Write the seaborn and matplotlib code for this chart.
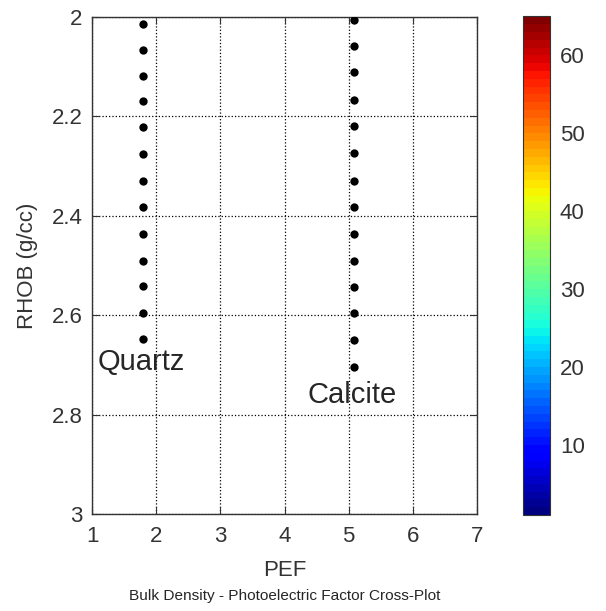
import numpy as np
import pandas as pd
import matplotlib
matplotlib.use("Agg")
import matplotlib.pyplot as plt
import matplotlib as mpl
import seaborn as sns

# --- data ---
quartz_pef = [1.8] * 13
quartz_rhob = [2.014, 2.067, 2.119, 2.168, 2.222, 2.276, 2.329,
               2.383, 2.437, 2.490, 2.541, 2.595, 2.648]
calcite_pef = [5.08] * 14
calcite_rhob = [2.006, 2.058, 2.110, 2.166, 2.219, 2.274, 2.329,
                2.383, 2.437, 2.490, 2.543, 2.596, 2.651, 2.705]
x_ticks = [1, 2, 3, 4, 5, 6, 7]
y_ticks = [2, 2.2, 2.4, 2.6, 2.8, 3]
y_ticklabels = ['2', '2.2', '2.4', '2.6', '2.8', '3']
cbar_ticks = [10, 20, 30, 40, 50, 60]
cbar_lim = (1, 65)

df = pd.DataFrame({
    'PEF': quartz_pef + calcite_pef,
    'RHOB': quartz_rhob + calcite_rhob,
    'mineral': ['Quartz'] * len(quartz_pef) + ['Calcite'] * len(calcite_pef),
})

sns.set_style("white")
plt.rcParams['font.family'] = ['Liberation Sans', 'DejaVu Sans']

fig = plt.figure(figsize=(6.06, 6.11), dpi=100)
ax = fig.add_axes([0.152, 0.159, 0.635, 0.813])
cax = fig.add_axes([0.863, 0.157, 0.045, 0.816])

sns.scatterplot(data=df, x='PEF', y='RHOB', color='black', s=36,
                edgecolor='black', linewidth=0, legend=False, ax=ax, zorder=3)

ax.set_xlim(1, 7)
ax.set_ylim(3, 2)
ax.set_xticks(x_ticks)
ax.set_yticks(y_ticks)
ax.set_yticklabels(y_ticklabels)
ax.grid(True, ls=':', color='black', lw=0.9)
ax.tick_params(direction='in', length=5, width=0.8, bottom=True, left=True,
               top=True, right=True, labelsize=16, labelcolor='#333333',
               color='#333333')
ax.tick_params(axis='x', pad=9)
ax.tick_params(axis='y', pad=7)
for sp in ax.spines.values():
    sp.set_color('#333333')
    sp.set_linewidth(1.0)
ax.set_xlabel('PEF', fontsize=16, color='#333333', labelpad=9)
ax.set_ylabel('RHOB (g/cc)', fontsize=16, color='#333333', labelpad=10)

ax.text(1.09, 2.694, 'Quartz', fontsize=21, va='center', ha='left')
ax.text(5.05, 2.761, 'Calcite', fontsize=21, va='center', ha='center')

ax.text(0.5, -0.165, 'Bulk Density - Photoelectric Factor Cross-Plot',
        transform=ax.transAxes, ha='center', va='center', fontsize=11.1)

cmap = plt.get_cmap('jet', 64)
norm = mpl.colors.Normalize(vmin=cbar_lim[0], vmax=cbar_lim[1])
cb = fig.colorbar(mpl.cm.ScalarMappable(norm=norm, cmap=cmap), cax=cax,
                  ticks=cbar_ticks)
cb.outline.set_color('#333333')
cax.tick_params(direction='in', length=5, width=0.8, labelsize=16, pad=7,
                labelcolor='#333333', color='#333333', left=True, right=True)

fig.savefig('out.png', dpi=100)
